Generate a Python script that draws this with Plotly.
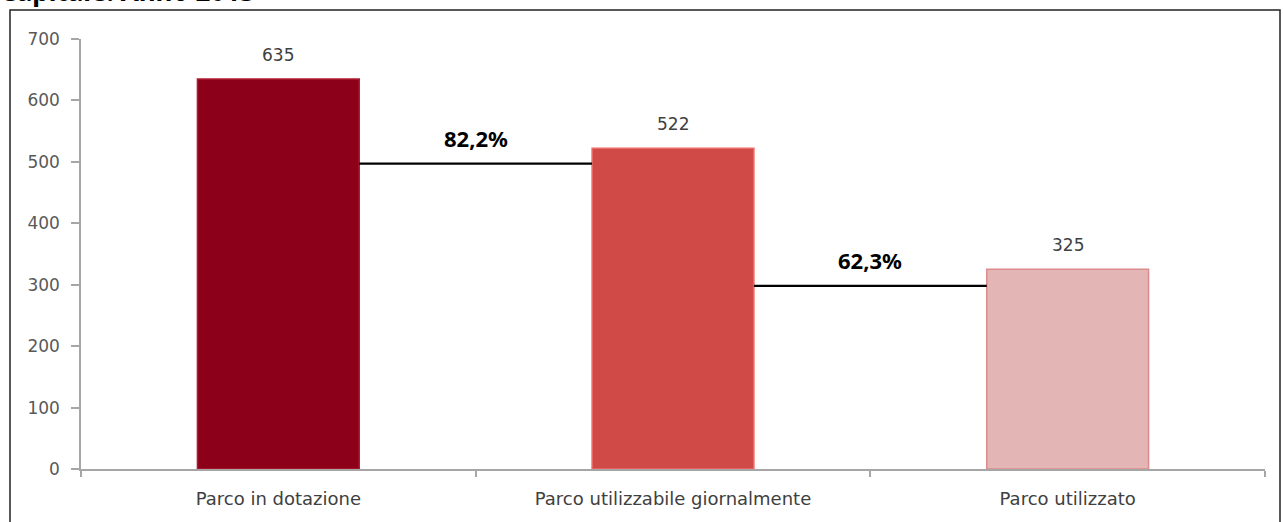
import plotly.graph_objects as go

categories = ["Parco in dotazione", "Parco utilizzabile giornalmente", "Parco utilizzato"]
values = [635, 522, 325]
bar_colors = ["#8c001a", "#d04a48", "#e3b5b5"]
bar_edges = ["#b01a30", "#ee6a68", "#dc8c8c"]
ratio_labels = ["82,2%", "62,3%"]
connector_levels = [497, 298]
y_ticks = [0, 100, 200, 300, 400, 500, 600, 700]
title_text = "Capitale. Anno 2013"

W, H = 1283, 522
L, R, T, B = 81, 18, 39, 53
pw, ph = W - L - R, H - T - B
bar_w = 0.41

def px_x(p):
    return (p - L) / pw

def px_y(p):
    return (H - B - p) / ph

xs = list(range(len(categories)))

fig = go.Figure()
fig.add_trace(go.Bar(
    x=xs, y=values, width=bar_w,
    marker=dict(color=bar_colors, line=dict(color=bar_edges, width=1.5)),
    hoverinfo="skip", showlegend=False,
))

# connector lines between bars
for i, lvl in enumerate(connector_levels):
    fig.add_trace(go.Scatter(
        x=[xs[i] + bar_w / 2, xs[i + 1] - bar_w / 2], y=[lvl, lvl],
        mode="lines", line=dict(color="black", width=2.2),
        hoverinfo="skip", showlegend=False,
    ))

annotations = []
for x, v in zip(xs, values):
    annotations.append(dict(
        x=x, y=v, xref="x", yref="y", text=str(v), showarrow=False,
        yanchor="bottom", yshift=12,
        font=dict(family="DejaVu Sans", size=17, color="#404040"),
    ))
for i, (lbl, lvl) in enumerate(zip(ratio_labels, connector_levels)):
    annotations.append(dict(
        x=(xs[i] + xs[i + 1]) / 2, y=lvl, xref="x", yref="y", text=f"<b>{lbl}</b>",
        showarrow=False, yanchor="middle", yshift=26,
        font=dict(family="Noto Sans", size=22, color="black"),
    ))
annotations.append(dict(
    x=px_x(-2), y=px_y(11), xref="paper", yref="paper", text=f"<b>{title_text}</b>",
    showarrow=False, xanchor="left", yanchor="bottom",
    font=dict(family="Noto Sans", size=26, color="black"),
))

fig.update_layout(
    width=W, height=H,
    margin=dict(l=L, r=R, t=T, b=B, pad=0),
    paper_bgcolor="white", plot_bgcolor="white",
    annotations=annotations,
    shapes=[dict(
        type="rect", xref="paper", yref="paper",
        x0=px_x(10), x1=px_x(1280), y0=px_y(10), y1=px_y(540),
        line=dict(color="#222222", width=1.5), layer="below",
    )],
    xaxis=dict(
        range=[-0.5, 2.5], tickvals=xs, ticktext=categories, ticks="",
        showline=True, linecolor="#a6a6a6", linewidth=1.5,
        showgrid=False, zeroline=False, ticklabelstandoff=13,
        tickfont=dict(family="DejaVu Sans", size=18, color="#404040"),
        minor=dict(tickmode="linear", tick0=-0.5, dtick=1, ticks="outside",
                   ticklen=6, tickcolor="#a6a6a6", tickwidth=1.5),
    ),
    yaxis=dict(
        range=[0, 700], tickvals=y_ticks, ticks="outside", ticklen=8,
        tickcolor="#a6a6a6", tickwidth=1.5,
        showline=True, linecolor="#a6a6a6", linewidth=1.5,
        showgrid=False, zeroline=False, ticklabelstandoff=8,
        tickfont=dict(family="DejaVu Sans", size=17, color="#595959"),
    ),
)

fig.write_html("out.html")
